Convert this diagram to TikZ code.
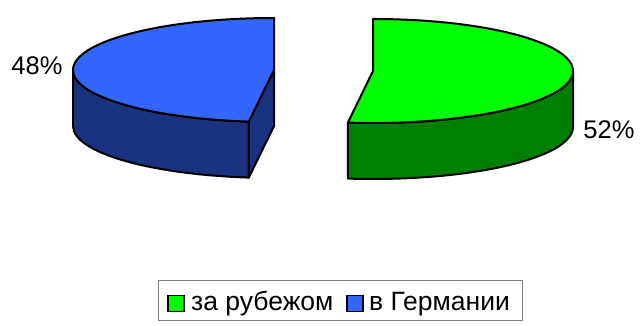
\documentclass[tikz,border=0pt]{standalone}
\usepackage{fontspec}
\setmainfont{Liberation Sans}
\usetikzlibrary{calc}
\definecolor{blueTop}{HTML}{3366FF}
\definecolor{blueSide}{HTML}{1A3380}
\definecolor{greenTop}{HTML}{00FF00}
\definecolor{greenSide}{HTML}{008000}
\definecolor{legendFrame}{HTML}{808080}
\begin{document}
\begin{tikzpicture}[x=1pt,y=1pt,
  face/.style={draw=black,line width=2pt,line join=round},
  pct/.style={font=\fontsize{25.5}{30}\selectfont,inner sep=0pt},
  legtext/.style={font=\fontsize{26.5}{30}\selectfont,inner sep=0pt,anchor=base west},
  legsq/.style={draw=black,line width=1.6pt,minimum size=16pt,inner sep=0pt}]
\useasboundingbox (0,0) rectangle (644,326);
% blue slice (48%)
\coordinate (bc) at (274,256);
\filldraw[face,fill=blueSide] (bc) ++(180:201 and 52) arc[start angle=180,end angle=262.8,x radius=201,y radius=52] -- ++(0,-56) arc[start angle=262.8,end angle=180,x radius=201,y radius=52] -- cycle;
\filldraw[face,fill=blueSide] (bc) -- ++(262.8:201 and 52) -- ++(0,-56) -- ($(bc)+(0,-56)$) -- cycle;
\filldraw[face,fill=blueTop] (bc) -- ++(0,52) arc[start angle=90,end angle=262.8,x radius=201,y radius=52] -- cycle;
% green slice (52%)
\coordinate (gc) at (373,255);
\filldraw[face,fill=greenSide] (gc) ++(-97.2:200 and 52) arc[start angle=-97.2,end angle=0,x radius=200,y radius=52] -- ++(0,-56) arc[start angle=0,end angle=-97.2,x radius=200,y radius=52] -- cycle;
\filldraw[face,fill=greenTop] (gc) -- ++(0,52) arc[start angle=90,end angle=-97.2,x radius=200,y radius=52] -- cycle;
% labels
\node[pct] (l48) at (37,260) {48\%};
\node[pct] (l52) at (609,196) {52\%};
% legend
\node[draw=legendFrame,line width=1pt,minimum width=364pt,minimum height=40pt,inner sep=0pt] (leg) at (340.2,25) {};
\node[legsq,fill=greenTop] (sq1) at (176,22.5) {};
\node[legtext] (t1) at (191,15) {за рубежом};
\node[legsq,fill=blueTop] (sq2) at (355,22.5) {};
\node[legtext] (t2) at (369,15) {в Германии};
\end{tikzpicture}
\end{document}
